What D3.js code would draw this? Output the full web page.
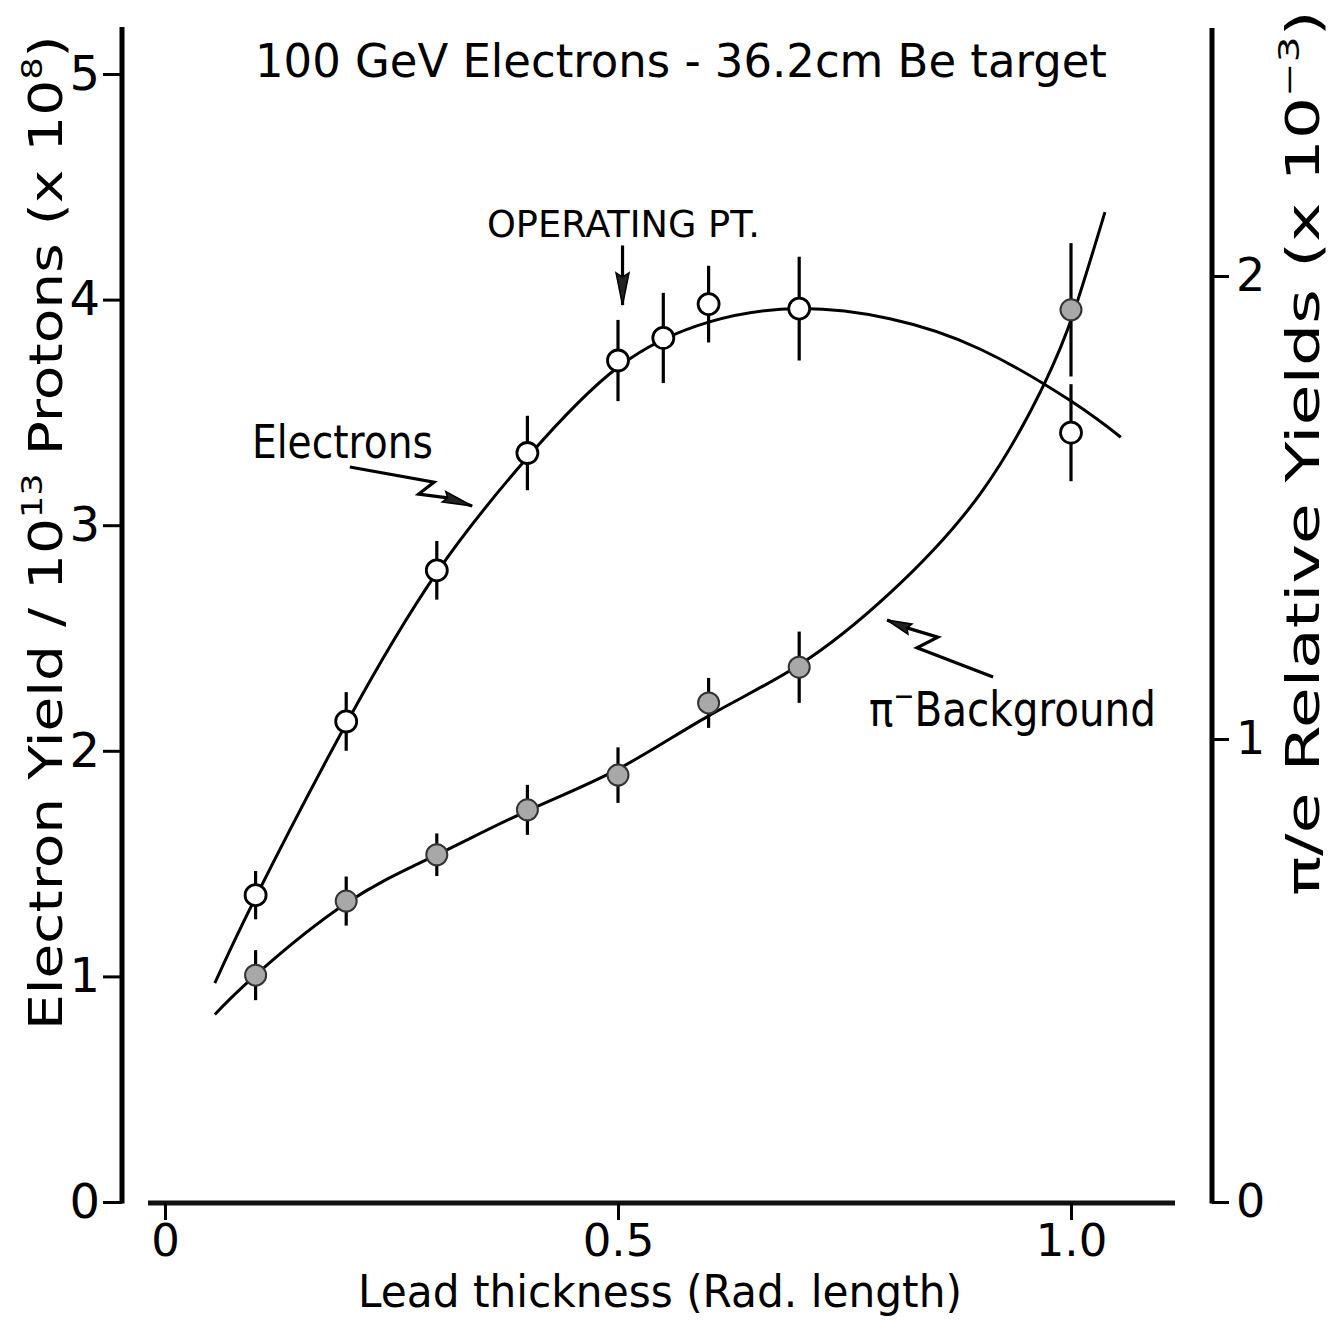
<!DOCTYPE html>
<html><head><meta charset="utf-8">
<script src="https://cdn.jsdelivr.net/npm/d3@7"></script>
<style>body{margin:0;background:#fff}svg{display:block}</style>
</head><body>
<svg id="c" width="1334" height="1323"></svg>
<script>
// ---------- data ----------
const xTicks = [0, 0.5, 1.0];
const xTickLabels = ["0", "0.5", "1.0"];
const leftTicks = [0, 1, 2, 3, 4, 5];
const rightTicks = [0, 1, 2];

const thickness = [0.1, 0.2, 0.3, 0.4, 0.5, 0.55, 0.6, 0.7, 1.0];
const electronYield = [1.36, 2.13, 2.80, 3.32, 3.73, 3.83, 3.98, 3.96, 3.41];
const electronErr = [0.107, 0.13, 0.13, 0.165, 0.18, 0.2, 0.17, 0.23, 0.215];

const pionThickness = [0.1, 0.2, 0.3, 0.4, 0.5, 0.6, 0.7, 1.0];
const pionRatio = [0.49, 0.65, 0.75, 0.847, 0.922, 1.078, 1.155, 1.927];
const pionErr = [0.054, 0.053, 0.046, 0.054, 0.06, 0.054, 0.077, 0.144];

const electronCurveX = [0.055, 0.1, 0.2, 0.3, 0.4, 0.5, 0.6, 0.7, 0.8, 0.9, 1.0, 1.055];
const electronCurveY = [0.97, 1.35, 2.12, 2.79, 3.30, 3.70, 3.90, 3.96, 3.915, 3.78, 3.55, 3.39];

const pionCurveX = [0.055, 0.1, 0.2, 0.3, 0.4, 0.5, 0.6, 0.7, 0.8, 0.9, 0.97, 1.004, 1.0375];
const pionCurveY = [0.405, 0.49, 0.645, 0.75, 0.845, 0.935, 1.05, 1.16, 1.315, 1.53, 1.765, 1.927, 2.138];

// annotation arrows in data units
const opArrowX = [0.505, 0.505];
const opArrowY = [4.24, 4.10];
const opArrowTip = [0.505, 3.976];
const elArrowX = [0.204, 0.297, 0.280, 0.312];
const elArrowY = [3.258, 3.191, 3.138, 3.121];
const elArrowTip = [0.339, 3.085];
const piArrowX = [0.914, 0.830, 0.853, 0.819];
const piArrowY = [1.134, 1.197, 1.220, 1.240];
const piArrowTip = [0.797, 1.257];

// ---------- setup ----------
const svg = d3.select("#c");
const FONT = "DejaVu Sans, Verdana, sans-serif";
const x = d3.scaleLinear().domain([0, 1]).range([165, 1071]);
const yL = d3.scaleLinear().domain([0, 5]).range([1202, 74]);
const yR = d3.scaleLinear().domain([0, 2]).range([1202, 276]);

svg.append("rect").attr("width", 1334).attr("height", 1323).attr("fill", "#fff");

// ---------- axes ----------
svg.append("line").attr("x1", 122).attr("x2", 122).attr("y1", 27).attr("y2", yL(0) + 1.5)
  .attr("stroke", "#000").attr("stroke-width", 5);
const gL = svg.append("g").attr("transform", "translate(122,0)")
  .call(d3.axisLeft(yL).tickValues(leftTicks).tickFormat(d3.format("d"))
    .tickSize(19).tickPadding(3).tickSizeOuter(0));
svg.append("line").attr("x1", 1212).attr("x2", 1212).attr("y1", 28).attr("y2", yR(0) + 1.5)
  .attr("stroke", "#000").attr("stroke-width", 5);
const gR = svg.append("g").attr("transform", "translate(1212,0)")
  .call(d3.axisRight(yR).tickValues(rightTicks).tickFormat(d3.format("d"))
    .tickSize(17).tickPadding(7).tickSizeOuter(0));
svg.append("line").attr("x1", 148).attr("x2", 1175).attr("y1", 1203).attr("y2", 1203)
  .attr("stroke", "#111").attr("stroke-width", 5);
const gB = svg.append("g").attr("transform", "translate(0,1203)")
  .call(d3.axisBottom(x).tickValues(xTicks).tickFormat((d, i) => xTickLabels[i])
    .tickSize(17).tickPadding(4).tickSizeOuter(0));

[gL, gR, gB].forEach(g => {
  g.select(".domain").remove();
  g.selectAll(".tick line").attr("stroke", "#000").attr("stroke-width", 3);
  g.selectAll(".tick text").attr("fill", "#000").attr("font-family", FONT);
});
gL.selectAll(".tick text").attr("font-size", 48);
gR.selectAll(".tick text").attr("font-size", 46);
gB.selectAll(".tick text").attr("font-size", 45);

// ---------- curves ----------
const lineL = d3.line().x(d => x(d[0])).y(d => yL(d[1])).curve(d3.curveNatural);
const lineR = d3.line().x(d => x(d[0])).y(d => yR(d[1])).curve(d3.curveNatural);
svg.append("path").attr("d", lineL(electronCurveX.map((v, i) => [v, electronCurveY[i]])))
  .attr("fill", "none").attr("stroke", "#000").attr("stroke-width", 3);
svg.append("path").attr("d", lineR(pionCurveX.map((v, i) => [v, pionCurveY[i]])))
  .attr("fill", "none").attr("stroke", "#000").attr("stroke-width", 3);

// ---------- error bars ----------
svg.append("g").selectAll("line").data(thickness).join("line")
  .attr("x1", d => x(d)).attr("x2", d => x(d))
  .attr("y1", (d, i) => yL(electronYield[i] + electronErr[i]))
  .attr("y2", (d, i) => yL(electronYield[i] - electronErr[i]))
  .attr("stroke", "#000").attr("stroke-width", 3.2);
svg.append("g").selectAll("line").data(pionThickness).join("line")
  .attr("x1", d => x(d)).attr("x2", d => x(d))
  .attr("y1", (d, i) => yR(pionRatio[i] + pionErr[i]))
  .attr("y2", (d, i) => yR(pionRatio[i] - pionErr[i]))
  .attr("stroke", "#000").attr("stroke-width", 3.2);

// ---------- points ----------
svg.append("g").selectAll("circle").data(pionThickness).join("circle")
  .attr("cx", d => x(d)).attr("cy", (d, i) => yR(pionRatio[i])).attr("r", 10.5)
  .attr("fill", "#a8a8a8").attr("stroke", "#333").attr("stroke-width", 2);
svg.append("g").selectAll("circle").data(thickness).join("circle")
  .attr("cx", d => x(d)).attr("cy", (d, i) => yL(electronYield[i])).attr("r", 10.5)
  .attr("fill", "#fff").attr("stroke", "#000").attr("stroke-width", 2.8);

// ---------- arrows ----------
function arrow(px, py, tip, ys, headW) {
  const pts = px.map((v, i) => [x(v), ys(py[i])]);
  const T = [x(tip[0]), ys(tip[1])];
  svg.append("path").attr("d", d3.line()(pts.concat([T])))
    .attr("fill", "none").attr("stroke", "#000").attr("stroke-width", 3.2)
    .attr("stroke-linejoin", "miter");
  const B = pts[pts.length - 1];
  const dx = T[0] - B[0], dy = T[1] - B[1], L = Math.hypot(dx, dy);
  const nx = -dy / L * headW / 2, ny = dx / L * headW / 2;
  const back = [B[0] - dx * 0.15, B[1] - dy * 0.15];
  svg.append("path")
    .attr("d", `M${back[0] + nx},${back[1] + ny}L${T[0]},${T[1]}L${back[0] - nx},${back[1] - ny}L${B[0]},${B[1]}Z`)
    .attr("fill", "#222").attr("stroke", "#000").attr("stroke-width", 1.5);
}
arrow(opArrowX, opArrowY, opArrowTip, yL, 13);
arrow(elArrowX, elArrowY, elArrowTip, yL, 11);
arrow(piArrowX, piArrowY, piArrowTip, yR, 11);

// ---------- text ----------
function fitText(tx, ty, rot, size, width, parts) {
  const g = svg.append("g").attr("transform", `translate(${tx},${ty}) rotate(${rot})`);
  const t = g.append("text").attr("x", 0).attr("y", 0).attr("font-family", FONT)
    .attr("font-size", size).attr("fill", "#000");
  let pending = 0;
  parts.forEach(p => {
    const ts = t.append("tspan").text(p.t);
    if (p.sup) {
      ts.attr("dy", pending - size * 0.42).attr("font-size", size * 0.62);
      pending = size * 0.42;
    } else {
      if (pending) ts.attr("dy", pending);
      pending = 0;
    }
  });
  const bb = t.node().getBBox();
  const s = width / bb.width;
  t.attr("transform", `scale(${s},1) translate(${-bb.x},0)`);
  return t;
}
fitText(255, 77, 0, 47, 852, [{t: "100 GeV Electrons - 36.2cm  Be target"}]);
fitText(487, 237, 0, 37, 273, [{t: "OPERATING  PT."}]);
fitText(252, 458, 0, 47, 181, [{t: "Electrons"}]);
fitText(869, 726, 0, 48, 287, [{t: "\u03c0"}, {t: "\u2212", sup: true}, {t: "Background"}]);
fitText(358, 1307, 0, 45, 604, [{t: "Lead thickness (Rad. length)"}]);
fitText(62, 1030, -90, 47, 995, [{t: "Electron Yield / 10"}, {t: "13", sup: true}, {t: " Protons  (x 10"}, {t: "8", sup: true}, {t: ")"}]);
fitText(1319, 896, -90, 47, 886, [{t: "\u03c0/e Relative Yields (x 10"}, {t: "\u22123", sup: true}, {t: ")"}]);
</script>
</body></html>
